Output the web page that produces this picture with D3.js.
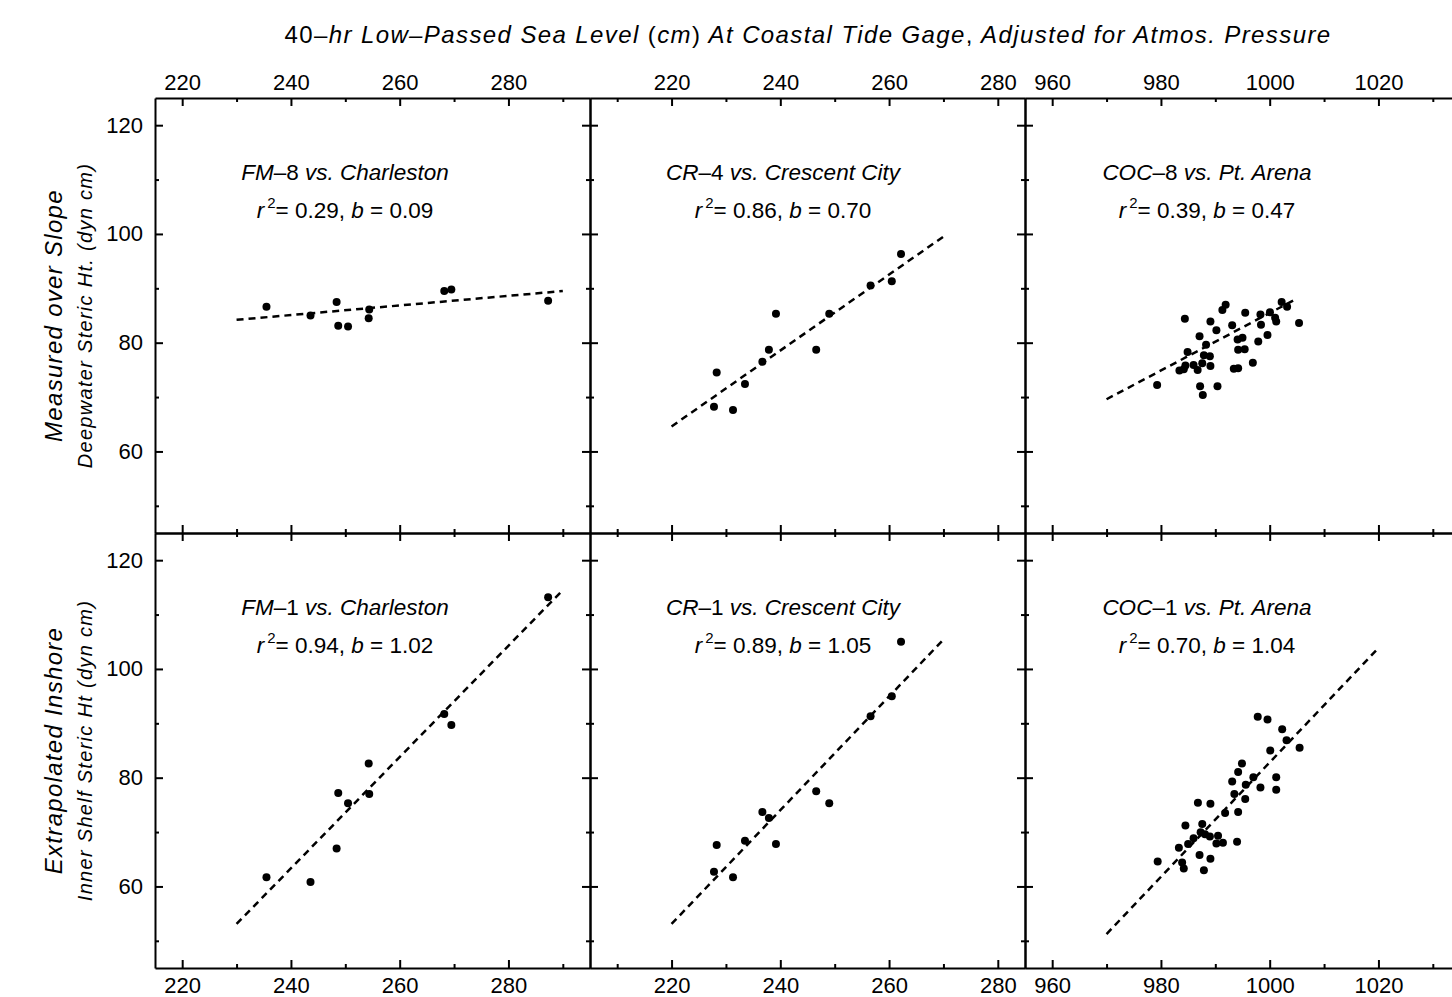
<!DOCTYPE html>
<html><head><meta charset="utf-8">
<script src="https://cdn.jsdelivr.net/npm/d3@7"></script>
<style>
body{margin:0;background:#fff}
svg{display:block}
text{font-family:"Liberation Sans",Arial,Helvetica,sans-serif;fill:#000}
</style>
</head><body>
<svg id="chart" width="1452" height="997"></svg>
<script>
// ---------- axes ----------
const xDomains = [[215, 295], [205, 285], [955, 1035]];
const yDomain = [45, 125];
const xMajorTicks = [[220, 240, 260, 280], [220, 240, 260, 280], [960, 980, 1000, 1020]];
const xMinorTicks = [[230, 250, 270, 290], [210, 230, 250, 270], [970, 990, 1010, 1030]];
const yMajorTicks = [60, 80, 100, 120];
const yMinorTicks = [50, 70, 90, 110];

// ---------- data ----------
// Charleston sea level (x) vs FM-8 / FM-1 steric height
const charlestonX = [235.5, 243.6, 248.4, 248.7, 250.5, 254.3, 254.4, 268.2, 269.5, 287.3];
const fm8Y = [86.6, 85.0, 87.5, 83.1, 83.0, 84.5, 86.1, 89.5, 89.8, 87.7];
const fm1Y = [61.7, 60.8, 67.0, 77.2, 75.3, 82.6, 77.0, 91.7, 89.7, 113.2];

// Crescent City sea level (x) vs CR-4 / CR-1
const crescentX = [227.8, 228.3, 231.3, 233.5, 236.7, 237.9, 239.2, 246.6, 249.0, 256.6, 260.5, 262.2];
const cr4Y = [68.2, 74.5, 67.6, 72.4, 76.5, 78.7, 85.3, 78.7, 85.3, 90.5, 91.3, 96.3];
const cr1Y = [62.7, 67.6, 61.7, 68.4, 73.7, 72.6, 67.8, 77.5, 75.3, 91.3, 95.0, 105.0];

// Pt. Arena sea level (x) vs COC-8
const arena8X = [984.4, 991.9, 991.3, 995.5, 998.3, 1000.05, 1002.2, 1003.2, 1001.0, 1001.2, 1005.4, 989.1, 993.1, 990.2, 987.1, 998.4, 999.6, 997.9, 994.1, 995.0, 988.3, 994.2, 995.4, 984.9, 987.9, 989.0, 987.6, 986.0, 984.5, 983.4, 984.2, 986.75, 989.1, 993.4, 994.2, 996.9, 979.3, 987.2, 990.4, 987.7];
const coc8Y = [84.4, 87.0, 86.0, 85.5, 85.2, 85.6, 87.5, 86.6, 84.6, 83.9, 83.6, 83.9, 83.2, 82.3, 81.2, 83.3, 81.4, 80.2, 80.6, 80.9, 79.6, 78.7, 78.8, 78.3, 77.7, 77.5, 76.2, 75.9, 75.8, 74.9, 75.1, 75.0, 75.7, 75.2, 75.3, 76.3, 72.2, 72.0, 72.0, 70.4];

// Pt. Arena sea level (x) vs COC-1
const arena1X = [997.8, 999.6, 1002.3, 1003.1, 1005.5, 1000.1, 994.9, 994.2, 993.1, 997.0, 995.6, 1001.2, 998.3, 1001.2, 993.5, 995.5, 986.8, 989.1, 991.8, 994.2, 984.5, 987.6, 987.3, 988.1, 989.0, 986.0, 990.5, 985.0, 990.2, 991.4, 994.0, 983.3, 987.1, 989.1, 979.4, 983.9, 984.2, 987.9];
const coc1Y = [91.2, 90.7, 88.9, 86.9, 85.5, 85.0, 82.6, 81.05, 79.3, 80.1, 78.7, 80.1, 78.2, 77.8, 77.0, 76.1, 75.4, 75.2, 73.5, 73.7, 71.2, 71.5, 69.95, 69.6, 69.2, 68.85, 69.3, 67.8, 67.9, 68.05, 68.2, 67.1, 65.8, 65.1, 64.6, 64.4, 63.3, 62.96];

// regression line end points
const fitX = [[230, 290], [220, 270], [970, 1005], [230, 290], [220, 270], [970, 1020]];
const fitY = [[84.2, 89.5], [64.6, 99.5], [69.6, 88.1], [53.1, 114.5], [53.1, 105.4], [51.25, 103.85]];

// panel labels
const moorings = ["FM", "CR", "COC", "FM", "CR", "COC"];
const mooringNums = ["8", "4", "8", "1", "1", "1"];
const stations = ["Charleston", "Crescent City", "Pt. Arena", "Charleston", "Crescent City", "Pt. Arena"];
const r2Values = ["0.29", "0.86", "0.39", "0.94", "0.89", "0.70"];
const bValues = ["0.09", "0.70", "0.47", "1.02", "1.05", "1.04"];

const rowLabels = ["Measured over Slope", "Extrapolated Inshore"];
const rowSubLabels = ["Deepwater Steric Ht. (dyn cm)", "Inner Shelf Steric Ht (dyn cm)"];

// ---------- layout ----------
const svg = d3.select("#chart");
const left = 155, top0 = 98, size = 435;
const panelData = [
  {xs: charlestonX, ys: fm8Y}, {xs: crescentX, ys: cr4Y}, {xs: arena8X, ys: coc8Y},
  {xs: charlestonX, ys: fm1Y}, {xs: crescentX, ys: cr1Y}, {xs: arena1X, ys: coc1Y}
];
const labelCx = [190, 193, 182];

function styleAxis(g, showLabels) {
  g.selectAll("path.domain").attr("stroke", "#000").attr("stroke-width", 2);
  g.selectAll(".tick line").attr("stroke", "#000").attr("stroke-width", 2);
  g.selectAll(".tick text").attr("font-size", 22)
    .attr("font-family", '"Liberation Sans", Arial, sans-serif')
    .style("display", showLabels ? null : "none");
}

panelData.forEach((pd, i) => {
  const row = Math.floor(i / 3), col = i % 3;
  const g = svg.append("g").attr("transform", `translate(${left + col * size},${top0 + row * size})`);
  const x = d3.scaleLinear().domain(xDomains[col]).range([0, size]);
  const y = d3.scaleLinear().domain(yDomain).range([size, 0]);

  // minor ticks
  const minorSpecs = [
    [d3.axisTop(x).tickValues(xMinorTicks[col]), 0, 0],
    [d3.axisBottom(x).tickValues(xMinorTicks[col]), 0, size],
    [d3.axisLeft(y).tickValues(yMinorTicks), 0, 0],
    [d3.axisRight(y).tickValues(yMinorTicks), size, 0]
  ];
  minorSpecs.forEach(([ax, tx, ty]) => {
    const a = g.append("g").attr("transform", `translate(${tx},${ty})`)
      .call(ax.tickSize(-4).tickSizeOuter(0).tickFormat(""));
    a.select("path.domain").remove();
    a.selectAll(".tick line").attr("stroke", "#000").attr("stroke-width", 2);
  });

  // major ticks + frame
  g.append("g").call(d3.axisTop(x).tickValues(xMajorTicks[col]).tickSize(-8).tickSizeOuter(0).tickPadding(8).tickFormat(d3.format("d")))
    .call(a => styleAxis(a, row === 0));
  g.append("g").attr("transform", `translate(0,${size})`)
    .call(d3.axisBottom(x).tickValues(xMajorTicks[col]).tickSize(-8).tickSizeOuter(0).tickPadding(9).tickFormat(d3.format("d")))
    .call(a => styleAxis(a, row === 1));
  g.append("g")
    .call(d3.axisLeft(y).tickValues(yMajorTicks).tickSize(-8).tickSizeOuter(0).tickPadding(12).tickFormat(d3.format("d")))
    .call(a => styleAxis(a, col === 0));
  g.append("g").attr("transform", `translate(${size},0)`)
    .call(d3.axisRight(y).tickValues(yMajorTicks).tickSize(-8).tickSizeOuter(0).tickFormat(""))
    .call(a => styleAxis(a, false));

  // regression line
  const line = d3.line().x(d => x(d[0])).y(d => y(d[1]));
  g.append("path")
    .attr("d", line(fitX[i].map((v, k) => [v, fitY[i][k]])))
    .attr("fill", "none").attr("stroke", "#000").attr("stroke-width", 2.5)
    .attr("stroke-dasharray", "7,5");

  // points
  g.selectAll("circle.pt").data(pd.xs.map((v, k) => [v, pd.ys[k]])).enter()
    .append("circle").attr("class", "pt")
    .attr("cx", d => x(d[0])).attr("cy", d => y(d[1])).attr("r", 4).attr("fill", "#000");

  // annotation
  const cx = labelCx[col];
  const t1 = g.append("text").attr("x", cx).attr("y", 82).attr("text-anchor", "middle").attr("font-size", 22.5);
  t1.append("tspan").attr("font-style", "italic").text(moorings[i]);
  t1.append("tspan").text("\u2013" + mooringNums[i] + " ");
  t1.append("tspan").attr("font-style", "italic").text("vs. " + stations[i]);

  const t2 = g.append("text").attr("x", cx).attr("y", 120).attr("text-anchor", "middle").attr("font-size", 22.5);
  t2.append("tspan").attr("font-style", "italic").text("r");
  t2.append("tspan").attr("font-size", 15).attr("dx", 3).attr("dy", -10).text("2");
  t2.append("tspan").attr("dy", 10).text("= " + r2Values[i] + ", ");
  t2.append("tspan").attr("font-style", "italic").text("b");
  t2.append("tspan").text(" = " + bValues[i]);
});

// title
const title = svg.append("text").attr("x", 808).attr("y", 43).attr("text-anchor", "middle")
  .attr("font-size", 24).attr("letter-spacing", 1.4);
[["40\u2013", false], ["hr Low\u2013Passed Sea Level ", true], ["(", false], ["cm", true], [")", false],
 [" At Coastal Tide Gage", true], [",", false], [" Adjusted for Atmos. Pressure", true]]
  .forEach(([s, it]) => title.append("tspan").attr("font-style", it ? "italic" : "normal").text(s));

// row labels
rowLabels.forEach((lab, r) => {
  const cy = top0 + r * size + size / 2;
  svg.append("text").attr("transform", `translate(62,${cy}) rotate(-90)`)
    .attr("text-anchor", "middle").attr("font-size", 24).attr("letter-spacing", 1.3)
    .attr("font-style", "italic").text(lab);
  svg.append("text").attr("transform", `translate(92,${cy}) rotate(-90)`)
    .attr("text-anchor", "middle").attr("font-size", 20).attr("letter-spacing", 1.3)
    .attr("font-style", "italic").text(rowSubLabels[r]);
});
</script>
</body></html>
